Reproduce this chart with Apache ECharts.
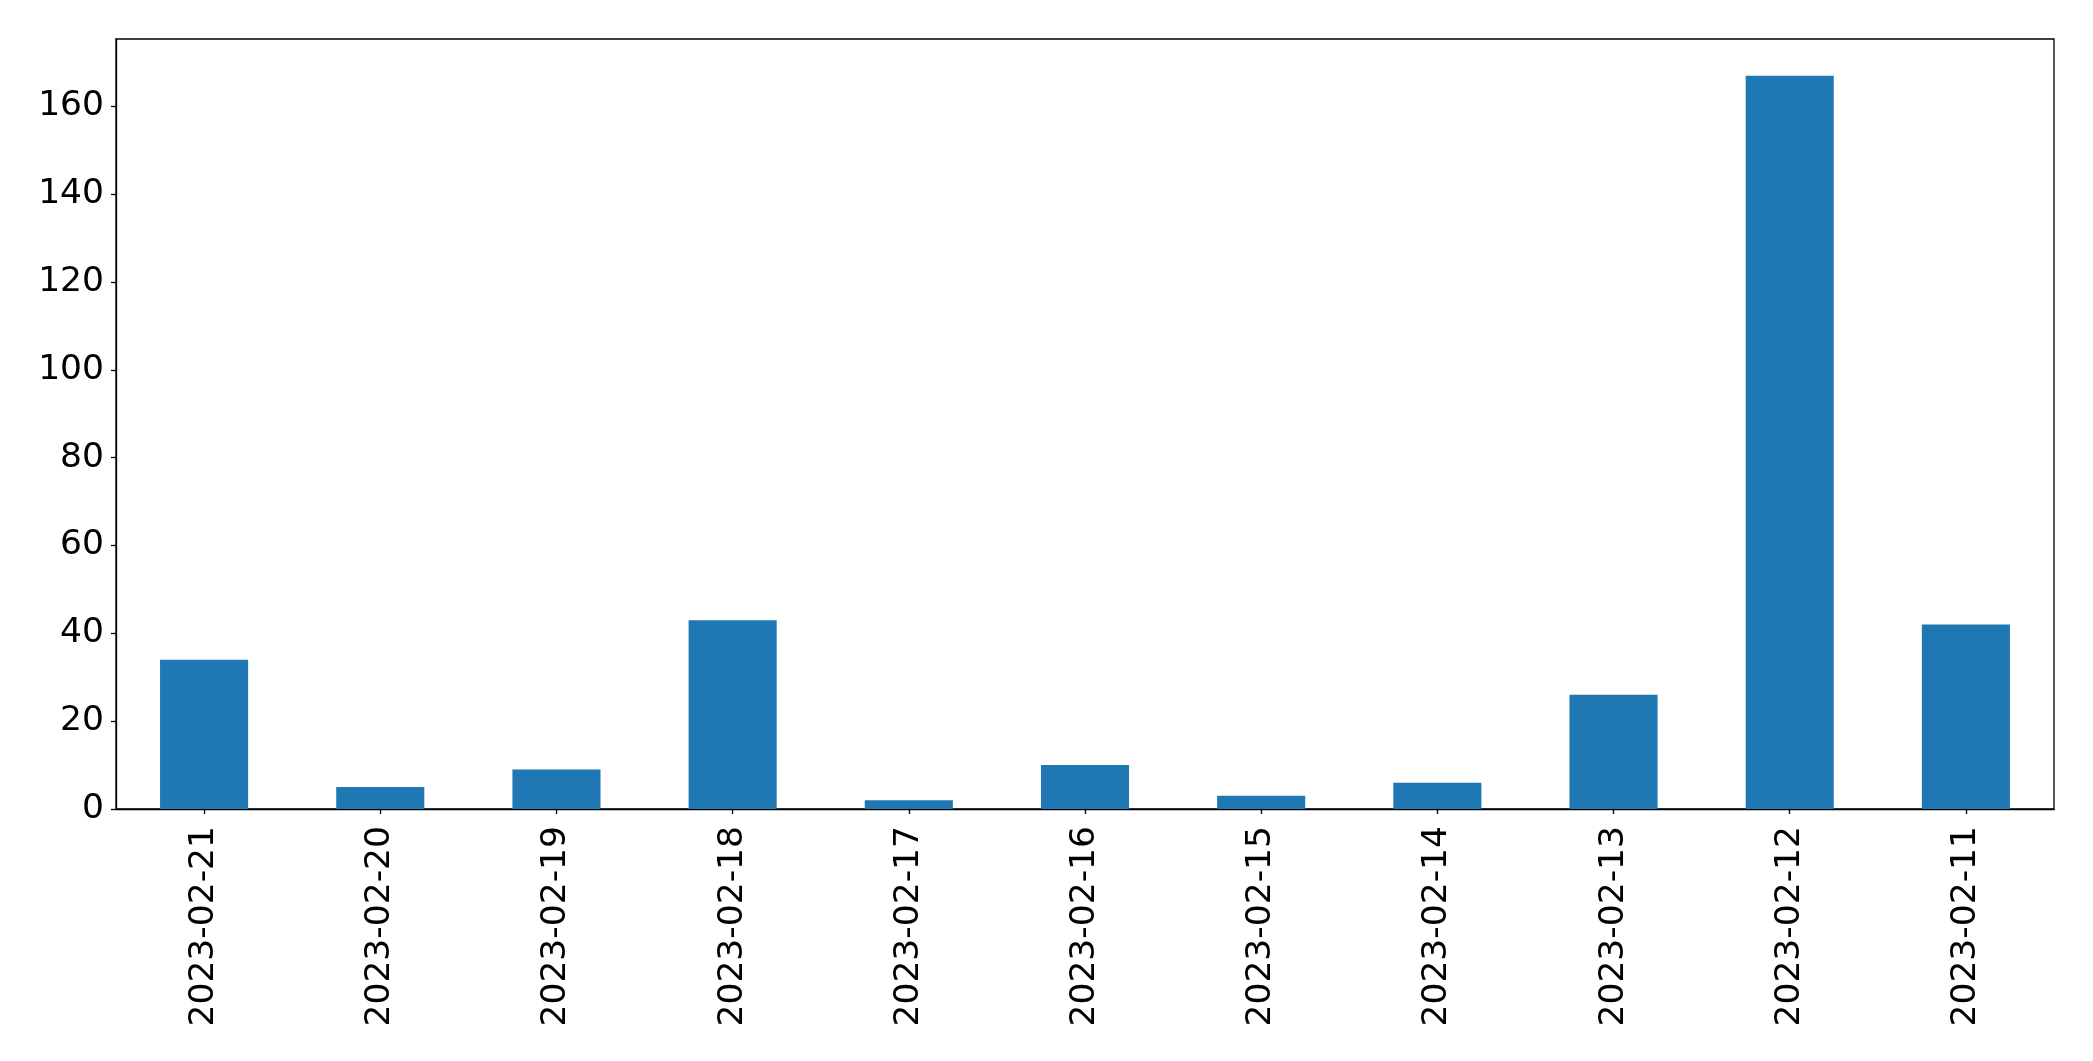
<!DOCTYPE html>
<html>
<head>
<meta charset="utf-8">
<script src="https://cdn.jsdelivr.net/npm/echarts@6/dist/echarts.min.js"></script>
<style>
html,body{margin:0;padding:0;background:#fff;}
#c{width:2093px;height:1061px;}
</style>
</head>
<body>
<div id="c"></div>
<script>
const categories = ["2023-02-21","2023-02-20","2023-02-19","2023-02-18","2023-02-17","2023-02-16","2023-02-15","2023-02-14","2023-02-13","2023-02-12","2023-02-11"];
const values = [34, 5, 9, 43, 2, 10, 3, 6, 26, 167, 42];
const yTicks = [0, 20, 40, 60, 80, 100, 120, 140, 160];

const chart = echarts.init(document.getElementById('c'), null, {renderer: 'canvas'});
const font = 'DejaVu Sans';
chart.setOption({
  animation: false,
  backgroundColor: '#ffffff',
  grid: {left: 116, top: 39, right: 39, bottom: 252, show: true, borderColor: '#000', borderWidth: 1.3, backgroundColor: 'transparent'},
  xAxis: {
    type: 'category',
    data: categories,
    boundaryGap: true,
    axisLine: {show: true, lineStyle: {color: '#000', width: 1.3}},
    axisTick: {show: true, alignWithLabel: true, length: 5, lineStyle: {color: '#000', width: 1.3}},
    axisLabel: {rotate: 90, color: '#000', fontFamily: font, fontSize: 34.5, margin: 17, interval: 0},
    splitLine: {show: false}
  },
  yAxis: {
    type: 'value',
    min: 0,
    max: 175.35,
    interval: 20,
    axisLine: {show: true, lineStyle: {color: '#000', width: 1.3}},
    axisTick: {show: true, length: 5, lineStyle: {color: '#000', width: 1.3}},
    axisLabel: {color: '#000', fontFamily: font, fontSize: 34.5, margin: 12, showMaxLabel: false,
      formatter: function (v) { return yTicks.indexOf(v) >= 0 ? String(v) : ''; }},
    splitLine: {show: false}
  },
  series: [{
    type: 'bar',
    data: values,
    barWidth: '50%',
    itemStyle: {color: '#1f77b4'}
  }]
});
</script>
</body>
</html>
